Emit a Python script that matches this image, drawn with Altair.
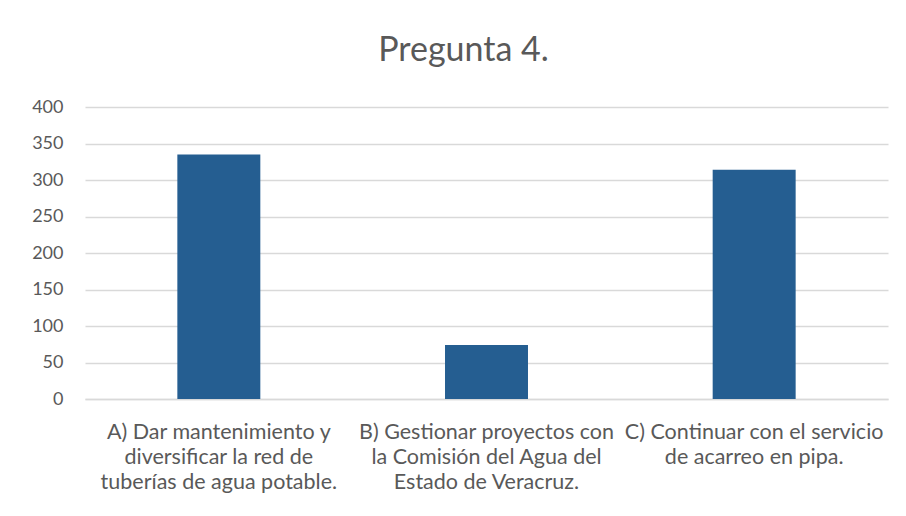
import altair as alt
import pandas as pd

categories = [
    "A) Dar mantenimiento y\ndiversificar la red de\ntuberías de agua potable.",
    "B) Gestionar proyectos con\nla Comisión del Agua del\nEstado de Veracruz.",
    "C) Continuar con el servicio\nde acarreo en pipa.",
]
values = [335, 74, 314]
y_ticks = [0, 50, 100, 150, 200, 250, 300, 350, 400]

df = pd.DataFrame({"cat": categories, "val": values})

FONT = "Lato"
TXT = "#595959"
GRID = "#D9D9D9"

chart = (
    alt.Chart(df)
    .mark_bar(color="#255E91")
    .encode(
        x=alt.X(
            "cat:N",
            sort=categories,
            title=None,
            scale=alt.Scale(paddingInner=0.69, paddingOuter=0.345),
            axis=alt.Axis(
                labelExpr="split(datum.label, '\\n')",
                labelAngle=0,
                labelFont=FONT,
                labelFontSize=21.5,
                labelColor=TXT,
                labelLineHeight=25,
                labelPadding=22,
                ticks=False,
                grid=False,
                domainColor=GRID,
                domainWidth=1.5,
                labelLimit=400,
            ),
        ),
        y=alt.Y(
            "val:Q",
            title=None,
            scale=alt.Scale(domain=[0, 400]),
            axis=alt.Axis(
                values=y_ticks,
                labelFont=FONT,
                labelFontSize=18,
                labelColor=TXT,
                labelPadding=22,
                ticks=False,
                domain=False,
                gridColor=GRID,
                gridWidth=1.5,
            ),
        ),
    )
    .properties(
        width=803,
        height=292,
        title=alt.TitleParams(
            "Pregunta 4.",
            font=FONT,
            fontSize=34,
            fontWeight="normal",
            color=TXT,
            anchor="middle",
            baseline="alphabetic",
            offset=3,
            dx=-23,
        ),
        autosize=alt.AutoSizeParams(type="none"),
        padding={"left": 77, "top": 99, "right": 10, "bottom": 100},
    )
    .configure(background="white", view=alt.ViewConfig(stroke=None))
)

chart.save("out.html", embed_options={"renderer": "svg", "actions": False})
